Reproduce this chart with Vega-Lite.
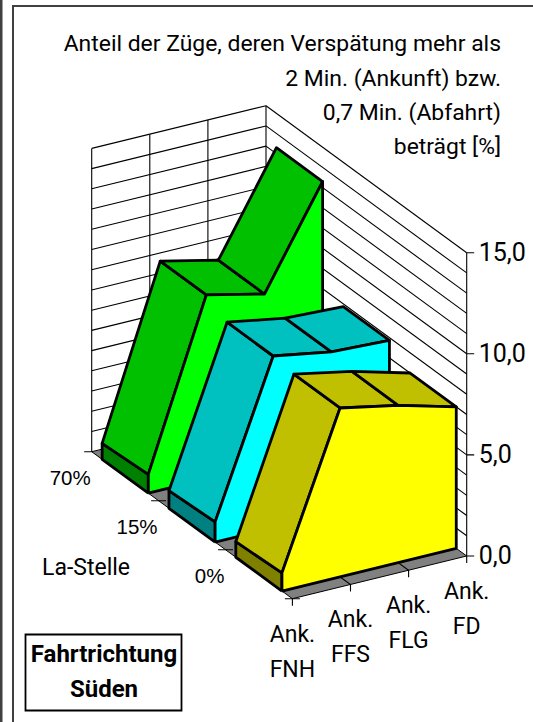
{"$schema":"https://vega.github.io/schema/vega-lite/v6.json","width":533,"height":722,"padding":0,"autosize":"none","background":"white","config":{"view":{"stroke":null}},
"datasets":{
"polys":[
{"poly":"floor","face":"floor","i":0,"u":0,"d":0,"v":0},{"poly":"floor","face":"floor","i":1,"u":1,"d":0,"v":0},{"poly":"floor","face":"floor","i":2,"u":1,"d":1,"v":0},{"poly":"floor","face":"floor","i":3,"u":0,"d":1,"v":0},{"poly":"floor","face":"floor","i":4,"u":0,"d":0,"v":0}
],
"solids":[
{"poly":"G1","face":"G-cap","i":0,"u":0,"d":0.718,"v":0},{"poly":"G1","face":"G-cap","i":1,"u":0,"d":0.948,"v":0},{"poly":"G1","face":"G-cap","i":2,"u":0,"d":0.948,"v":0.79},{"poly":"G1","face":"G-cap","i":3,"u":0,"d":0.718,"v":0.93},{"poly":"G1","face":"G-cap","i":4,"u":0,"d":0.718,"v":0},
{"poly":"G2","face":"G-top","i":0,"u":0,"d":0.718,"v":0.93},{"poly":"G2","face":"G-top","i":1,"u":0,"d":0.948,"v":0.79},{"poly":"G2","face":"G-top","i":2,"u":0.3333,"d":0.948,"v":9.1},{"poly":"G2","face":"G-top","i":3,"u":0.3333,"d":0.718,"v":9.1},{"poly":"G2","face":"G-top","i":4,"u":0,"d":0.718,"v":0.93},
{"poly":"G3","face":"G-top","i":0,"u":0.3333,"d":0.718,"v":9.1},{"poly":"G3","face":"G-top","i":1,"u":0.3333,"d":0.948,"v":9.1},{"poly":"G3","face":"G-top","i":2,"u":0.6667,"d":0.948,"v":8.44},{"poly":"G3","face":"G-top","i":3,"u":0.6667,"d":0.718,"v":8.44},{"poly":"G3","face":"G-top","i":4,"u":0.3333,"d":0.718,"v":9.1},
{"poly":"G4","face":"G-top","i":0,"u":0.6667,"d":0.718,"v":8.44},{"poly":"G4","face":"G-top","i":1,"u":0.6667,"d":0.948,"v":8.44},{"poly":"G4","face":"G-top","i":2,"u":1,"d":0.948,"v":13.3},{"poly":"G4","face":"G-top","i":3,"u":1,"d":0.718,"v":13.3},{"poly":"G4","face":"G-top","i":4,"u":0.6667,"d":0.718,"v":8.44},
{"poly":"G5","face":"G-front","i":0,"u":0,"d":0.718,"v":0},{"poly":"G5","face":"G-front","i":1,"u":0,"d":0.718,"v":0.93},{"poly":"G5","face":"G-front","i":2,"u":0.3333,"d":0.718,"v":9.1},{"poly":"G5","face":"G-front","i":3,"u":0.6667,"d":0.718,"v":8.44},{"poly":"G5","face":"G-front","i":4,"u":1,"d":0.718,"v":13.3},{"poly":"G5","face":"G-front","i":5,"u":1,"d":0.718,"v":0},{"poly":"G5","face":"G-front","i":6,"u":0,"d":0.718,"v":0},
{"poly":"C1","face":"C-cap","i":0,"u":0,"d":0.385,"v":0},{"poly":"C1","face":"C-cap","i":1,"u":0,"d":0.615,"v":0},{"poly":"C1","face":"C-cap","i":2,"u":0,"d":0.615,"v":0.87},{"poly":"C1","face":"C-cap","i":3,"u":0,"d":0.385,"v":1.0},{"poly":"C1","face":"C-cap","i":4,"u":0,"d":0.385,"v":0},
{"poly":"C2","face":"C-top","i":0,"u":0,"d":0.385,"v":1.0},{"poly":"C2","face":"C-top","i":1,"u":0,"d":0.615,"v":0.87},{"poly":"C2","face":"C-top","i":2,"u":0.3333,"d":0.615,"v":8.5},{"poly":"C2","face":"C-top","i":3,"u":0.3333,"d":0.385,"v":8.5},{"poly":"C2","face":"C-top","i":4,"u":0,"d":0.385,"v":1.0},
{"poly":"C3","face":"C-top","i":0,"u":0.3333,"d":0.385,"v":8.5},{"poly":"C3","face":"C-top","i":1,"u":0.3333,"d":0.615,"v":8.5},{"poly":"C3","face":"C-top","i":2,"u":0.6667,"d":0.615,"v":8.0},{"poly":"C3","face":"C-top","i":3,"u":0.6667,"d":0.385,"v":8.0},{"poly":"C3","face":"C-top","i":4,"u":0.3333,"d":0.385,"v":8.5},
{"poly":"C4","face":"C-top","i":0,"u":0.6667,"d":0.385,"v":8.0},{"poly":"C4","face":"C-top","i":1,"u":0.6667,"d":0.615,"v":8.0},{"poly":"C4","face":"C-top","i":2,"u":1,"d":0.615,"v":7.86},{"poly":"C4","face":"C-top","i":3,"u":1,"d":0.385,"v":7.86},{"poly":"C4","face":"C-top","i":4,"u":0.6667,"d":0.385,"v":8.0},
{"poly":"C5","face":"C-front","i":0,"u":0,"d":0.385,"v":0},{"poly":"C5","face":"C-front","i":1,"u":0,"d":0.385,"v":1.0},{"poly":"C5","face":"C-front","i":2,"u":0.3333,"d":0.385,"v":8.5},{"poly":"C5","face":"C-front","i":3,"u":0.6667,"d":0.385,"v":8.0},{"poly":"C5","face":"C-front","i":4,"u":1,"d":0.385,"v":7.86},{"poly":"C5","face":"C-front","i":5,"u":1,"d":0.385,"v":0},{"poly":"C5","face":"C-front","i":6,"u":0,"d":0.385,"v":0},
{"poly":"Y1","face":"Y-cap","i":0,"u":0,"d":0.052,"v":0},{"poly":"Y1","face":"Y-cap","i":1,"u":0,"d":0.282,"v":0},{"poly":"Y1","face":"Y-cap","i":2,"u":0,"d":0.282,"v":0.77},{"poly":"Y1","face":"Y-cap","i":3,"u":0,"d":0.052,"v":0.9},{"poly":"Y1","face":"Y-cap","i":4,"u":0,"d":0.052,"v":0},
{"poly":"Y2","face":"Y-top","i":0,"u":0,"d":0.052,"v":0.9},{"poly":"Y2","face":"Y-top","i":1,"u":0,"d":0.282,"v":0.77},{"poly":"Y2","face":"Y-top","i":2,"u":0.3333,"d":0.282,"v":8.35},{"poly":"Y2","face":"Y-top","i":3,"u":0.3333,"d":0.052,"v":8.35},{"poly":"Y2","face":"Y-top","i":4,"u":0,"d":0.052,"v":0.9},
{"poly":"Y3","face":"Y-top","i":0,"u":0.3333,"d":0.052,"v":8.35},{"poly":"Y3","face":"Y-top","i":1,"u":0.3333,"d":0.282,"v":8.35},{"poly":"Y3","face":"Y-top","i":2,"u":0.6667,"d":0.282,"v":7.78},{"poly":"Y3","face":"Y-top","i":3,"u":0.6667,"d":0.052,"v":7.78},{"poly":"Y3","face":"Y-top","i":4,"u":0.3333,"d":0.052,"v":8.35},
{"poly":"Y4","face":"Y-top","i":0,"u":0.6667,"d":0.052,"v":7.78},{"poly":"Y4","face":"Y-top","i":1,"u":0.6667,"d":0.282,"v":7.78},{"poly":"Y4","face":"Y-top","i":2,"u":1,"d":0.282,"v":7.0},{"poly":"Y4","face":"Y-top","i":3,"u":1,"d":0.052,"v":7.0},{"poly":"Y4","face":"Y-top","i":4,"u":0.6667,"d":0.052,"v":7.78},
{"poly":"Y5","face":"Y-front","i":0,"u":0,"d":0.052,"v":0},{"poly":"Y5","face":"Y-front","i":1,"u":0,"d":0.052,"v":0.9},{"poly":"Y5","face":"Y-front","i":2,"u":0.3333,"d":0.052,"v":8.35},{"poly":"Y5","face":"Y-front","i":3,"u":0.6667,"d":0.052,"v":7.78},{"poly":"Y5","face":"Y-front","i":4,"u":1,"d":0.052,"v":7.0},{"poly":"Y5","face":"Y-front","i":5,"u":1,"d":0.052,"v":0},{"poly":"Y5","face":"Y-front","i":6,"u":0,"d":0.052,"v":0}
],
"grid":[
{"s":"L1","i":0,"u":0,"d":1,"v":1},{"s":"L1","i":1,"u":1,"d":1,"v":1},{"s":"R1","i":0,"u":1,"d":1,"v":1},{"s":"R1","i":1,"u":1,"d":0,"v":1},
{"s":"L2","i":0,"u":0,"d":1,"v":2},{"s":"L2","i":1,"u":1,"d":1,"v":2},{"s":"R2","i":0,"u":1,"d":1,"v":2},{"s":"R2","i":1,"u":1,"d":0,"v":2},
{"s":"L3","i":0,"u":0,"d":1,"v":3},{"s":"L3","i":1,"u":1,"d":1,"v":3},{"s":"R3","i":0,"u":1,"d":1,"v":3},{"s":"R3","i":1,"u":1,"d":0,"v":3},
{"s":"L4","i":0,"u":0,"d":1,"v":4},{"s":"L4","i":1,"u":1,"d":1,"v":4},{"s":"R4","i":0,"u":1,"d":1,"v":4},{"s":"R4","i":1,"u":1,"d":0,"v":4},
{"s":"L5","i":0,"u":0,"d":1,"v":5},{"s":"L5","i":1,"u":1,"d":1,"v":5},{"s":"R5","i":0,"u":1,"d":1,"v":5},{"s":"R5","i":1,"u":1,"d":0,"v":5},
{"s":"L6","i":0,"u":0,"d":1,"v":6},{"s":"L6","i":1,"u":1,"d":1,"v":6},{"s":"R6","i":0,"u":1,"d":1,"v":6},{"s":"R6","i":1,"u":1,"d":0,"v":6},
{"s":"L7","i":0,"u":0,"d":1,"v":7},{"s":"L7","i":1,"u":1,"d":1,"v":7},{"s":"R7","i":0,"u":1,"d":1,"v":7},{"s":"R7","i":1,"u":1,"d":0,"v":7},
{"s":"L8","i":0,"u":0,"d":1,"v":8},{"s":"L8","i":1,"u":1,"d":1,"v":8},{"s":"R8","i":0,"u":1,"d":1,"v":8},{"s":"R8","i":1,"u":1,"d":0,"v":8},
{"s":"L9","i":0,"u":0,"d":1,"v":9},{"s":"L9","i":1,"u":1,"d":1,"v":9},{"s":"R9","i":0,"u":1,"d":1,"v":9},{"s":"R9","i":1,"u":1,"d":0,"v":9},
{"s":"L10","i":0,"u":0,"d":1,"v":10},{"s":"L10","i":1,"u":1,"d":1,"v":10},{"s":"R10","i":0,"u":1,"d":1,"v":10},{"s":"R10","i":1,"u":1,"d":0,"v":10},
{"s":"L11","i":0,"u":0,"d":1,"v":11},{"s":"L11","i":1,"u":1,"d":1,"v":11},{"s":"R11","i":0,"u":1,"d":1,"v":11},{"s":"R11","i":1,"u":1,"d":0,"v":11},
{"s":"L12","i":0,"u":0,"d":1,"v":12},{"s":"L12","i":1,"u":1,"d":1,"v":12},{"s":"R12","i":0,"u":1,"d":1,"v":12},{"s":"R12","i":1,"u":1,"d":0,"v":12},
{"s":"L13","i":0,"u":0,"d":1,"v":13},{"s":"L13","i":1,"u":1,"d":1,"v":13},{"s":"R13","i":0,"u":1,"d":1,"v":13},{"s":"R13","i":1,"u":1,"d":0,"v":13},
{"s":"L14","i":0,"u":0,"d":1,"v":14},{"s":"L14","i":1,"u":1,"d":1,"v":14},{"s":"R14","i":0,"u":1,"d":1,"v":14},{"s":"R14","i":1,"u":1,"d":0,"v":14},
{"s":"L15","i":0,"u":0,"d":1,"v":15},{"s":"L15","i":1,"u":1,"d":1,"v":15},{"s":"R15","i":0,"u":1,"d":1,"v":15},{"s":"R15","i":1,"u":1,"d":0,"v":15},
{"s":"V0","i":0,"u":0,"d":1,"v":0},{"s":"V0","i":1,"u":0,"d":1,"v":15},
{"s":"V1","i":0,"u":0.3333,"d":1,"v":0},{"s":"V1","i":1,"u":0.3333,"d":1,"v":15},
{"s":"V2","i":0,"u":0.6667,"d":1,"v":0},{"s":"V2","i":1,"u":0.6667,"d":1,"v":15},
{"s":"V3","i":0,"u":1,"d":1,"v":0},{"s":"V3","i":1,"u":1,"d":1,"v":15},
{"s":"V4","i":0,"u":1,"d":0,"v":-0.35},{"s":"V4","i":1,"u":1,"d":0,"v":15},
{"s":"F1","i":0,"u":0.3333,"d":0,"v":-0.35},{"s":"F1","i":1,"u":0.3333,"d":0,"v":0},{"s":"F1","i":2,"u":0.3333,"d":1,"v":0},
{"s":"F2","i":0,"u":0.6667,"d":0,"v":-0.35},{"s":"F2","i":1,"u":0.6667,"d":0,"v":0},{"s":"F2","i":2,"u":0.6667,"d":1,"v":0},
{"s":"F0","i":0,"u":0,"d":0,"v":-0.35},{"s":"F0","i":1,"u":0,"d":0,"v":0},
{"s":"T0","i":0,"u":-0.0322,"d":0.00937,"v":0},{"s":"T0","i":1,"u":0.0322,"d":-0.00937,"v":0},
{"s":"T1","i":0,"u":-0.0322,"d":0.34270,"v":0},{"s":"T1","i":1,"u":0.0322,"d":0.32396,"v":0},
{"s":"T2","i":0,"u":-0.0322,"d":0.67604,"v":0},{"s":"T2","i":1,"u":0.0322,"d":0.65730,"v":0},
{"s":"T3","i":0,"u":-0.0322,"d":1.00937,"v":0},{"s":"T3","i":1,"u":0,"d":1,"v":0},
{"s":"A0","i":0,"u":1,"d":0,"v":0},{"s":"A0","i":1,"u":1.0322,"d":-0.00937,"v":0},
{"s":"A5","i":0,"u":1,"d":0,"v":5},{"s":"A5","i":1,"u":1.0322,"d":-0.00937,"v":5},
{"s":"A10","i":0,"u":1,"d":0,"v":10},{"s":"A10","i":1,"u":1.0322,"d":-0.00937,"v":10},
{"s":"A15","i":0,"u":1,"d":0,"v":15},{"s":"A15","i":1,"u":1.0322,"d":-0.00937,"v":15}
]
},
"encoding":{
"x":{"field":"sx","type":"quantitative","scale":{"domain":[0,533],"range":[0,533],"nice":false,"zero":false},"axis":null},
"y":{"field":"sy","type":"quantitative","scale":{"domain":[0,722],"range":[0,722],"nice":false,"zero":false},"axis":null}
},
"layer":[
{"data":{"name":"polys"},"transform":[{"calculate":"292.4+174.3*datum.u-200.7*datum.d","as":"sx"},{"calculate":"598.7-42.7*datum.u-147*datum.d-20.22*datum.v","as":"sy"}],
"mark":{"type":"line","fill":"#808080","stroke":"#000000","strokeWidth":1},
"encoding":{"detail":{"field":"poly"},"order":{"field":"i","type":"quantitative"}}},
{"data":{"name":"grid"},"transform":[{"calculate":"292.4+174.3*datum.u-200.7*datum.d","as":"sx"},{"calculate":"598.7-42.7*datum.u-147*datum.d-20.22*datum.v","as":"sy"}],
"mark":{"type":"line","stroke":"#000000","strokeWidth":1.1},
"encoding":{"detail":{"field":"s"},"order":{"field":"i","type":"quantitative"}}},
{"data":{"name":"solids"},"transform":[{"calculate":"292.4+174.3*datum.u-200.7*datum.d","as":"sx"},{"calculate":"598.7-42.7*datum.u-147*datum.d-20.22*datum.v","as":"sy"}],
"mark":{"type":"line","stroke":"#000000","strokeWidth":2.8,"strokeJoin":"round"},
"encoding":{"detail":{"field":"poly"},"order":{"field":"i","type":"quantitative"},
"fill":{"field":"face","type":"nominal","legend":null,"scale":{"domain":["G-cap","G-top","G-front","C-cap","C-top","C-front","Y-cap","Y-top","Y-front"],"range":["#008000","#00C000","#00FF00","#008080","#00C0C0","#00FFFF","#808000","#C0C000","#FFFF00"]}}}},
{"data":{"values":[{"t":"15,0","v":15},{"t":"10,0","v":10},{"t":"5,0","v":5},{"t":"0,0","v":0}]},"transform":[{"calculate":"292.4+174.3","as":"sx"},{"calculate":"598.7-42.7-20.22*datum.v","as":"sy"}],
"mark":{"type":"text","align":"left","baseline":"middle","dx":12,"dy":0,"font":"Roboto","fontSize":25,"fill":"#000000"},"encoding":{"text":{"field":"t"}}},
{"data":{"values":[{"t":["Ank.","FNH"],"u":0},{"t":["Ank.","FFS"],"u":0.3333},{"t":["Ank.","FLG"],"u":0.6667},{"t":["Ank.","FD"],"u":1}]},"transform":[{"calculate":"292.4+174.3*datum.u","as":"sx"},{"calculate":"598.7-42.7*datum.u","as":"sy"}],
"mark":{"type":"text","align":"center","baseline":"middle","dy":36,"lineHeight":35,"font":"Roboto","fontSize":23,"fill":"#000000"},"encoding":{"text":{"field":"t"}}},
{"data":{"values":[{"t":"70%","d":1},{"t":"15%","d":0.6667},{"t":"0%","d":0.3333}]},"transform":[{"calculate":"292.4-200.7*datum.d","as":"sx"},{"calculate":"598.7-147*datum.d","as":"sy"}],
"mark":{"type":"text","align":"right","baseline":"middle","dx":-1,"dy":27,"font":"Liberation Sans","fontSize":20.5,"fill":"#000000"},"encoding":{"text":{"field":"t"}}},
{"data":{"values":[{"t":"La-Stelle"}]},"mark":{"type":"text","align":"center","baseline":"middle","font":"Roboto","fontSize":23,"fill":"#000000"},"encoding":{"x":{"value":86},"y":{"value":568},"text":{"field":"t"}}},
{"data":{"values":[{"t":"Anteil der Züge, deren Verspätung mehr als","yy":44},{"t":"2 Min. (Ankunft) bzw.","yy":79},{"t":"0,7 Min. (Abfahrt)","yy":113},{"t":"beträgt [%]","yy":147}]},"mark":{"type":"text","align":"right","baseline":"middle","font":"Roboto","fontSize":22.9,"fill":"#000000"},"encoding":{"x":{"value":501},"y":{"field":"yy","type":"quantitative","scale":{"domain":[0,722],"range":[0,722],"nice":false,"zero":false},"axis":null},"text":{"field":"t"}}},
{"data":{"values":[{"a":1}]},"mark":{"type":"rect","fill":"#ffffff","stroke":"#000000","strokeWidth":1.8},"encoding":{"x":{"value":25.5},"x2":{"value":181.5},"y":{"value":634.5},"y2":{"value":710.5}}},
{"data":{"values":[{"t":"Fahrtrichtung","yy":655},{"t":"Süden","yy":690}]},"mark":{"type":"text","align":"center","baseline":"middle","font":"Roboto","fontWeight":"bold","fontSize":24,"fill":"#000000"},"encoding":{"x":{"value":104},"y":{"field":"yy","type":"quantitative","scale":{"domain":[0,722],"range":[0,722],"nice":false,"zero":false},"axis":null},"text":{"field":"t"}}},
{"data":{"values":[{"a":1}]},"mark":{"type":"rect","fill":"#404040"},"encoding":{"x":{"value":0},"x2":{"value":2.5},"y":{"value":0},"y2":{"value":722}}},
{"data":{"values":[{"a":1}]},"mark":{"type":"rect","fill":"#404040"},"encoding":{"x":{"value":12},"x2":{"value":14},"y":{"value":5},"y2":{"value":722}}},
{"data":{"values":[{"a":1}]},"mark":{"type":"rect","fill":"#404040"},"encoding":{"x":{"value":12},"x2":{"value":533},"y":{"value":5},"y2":{"value":7}}}
]}
